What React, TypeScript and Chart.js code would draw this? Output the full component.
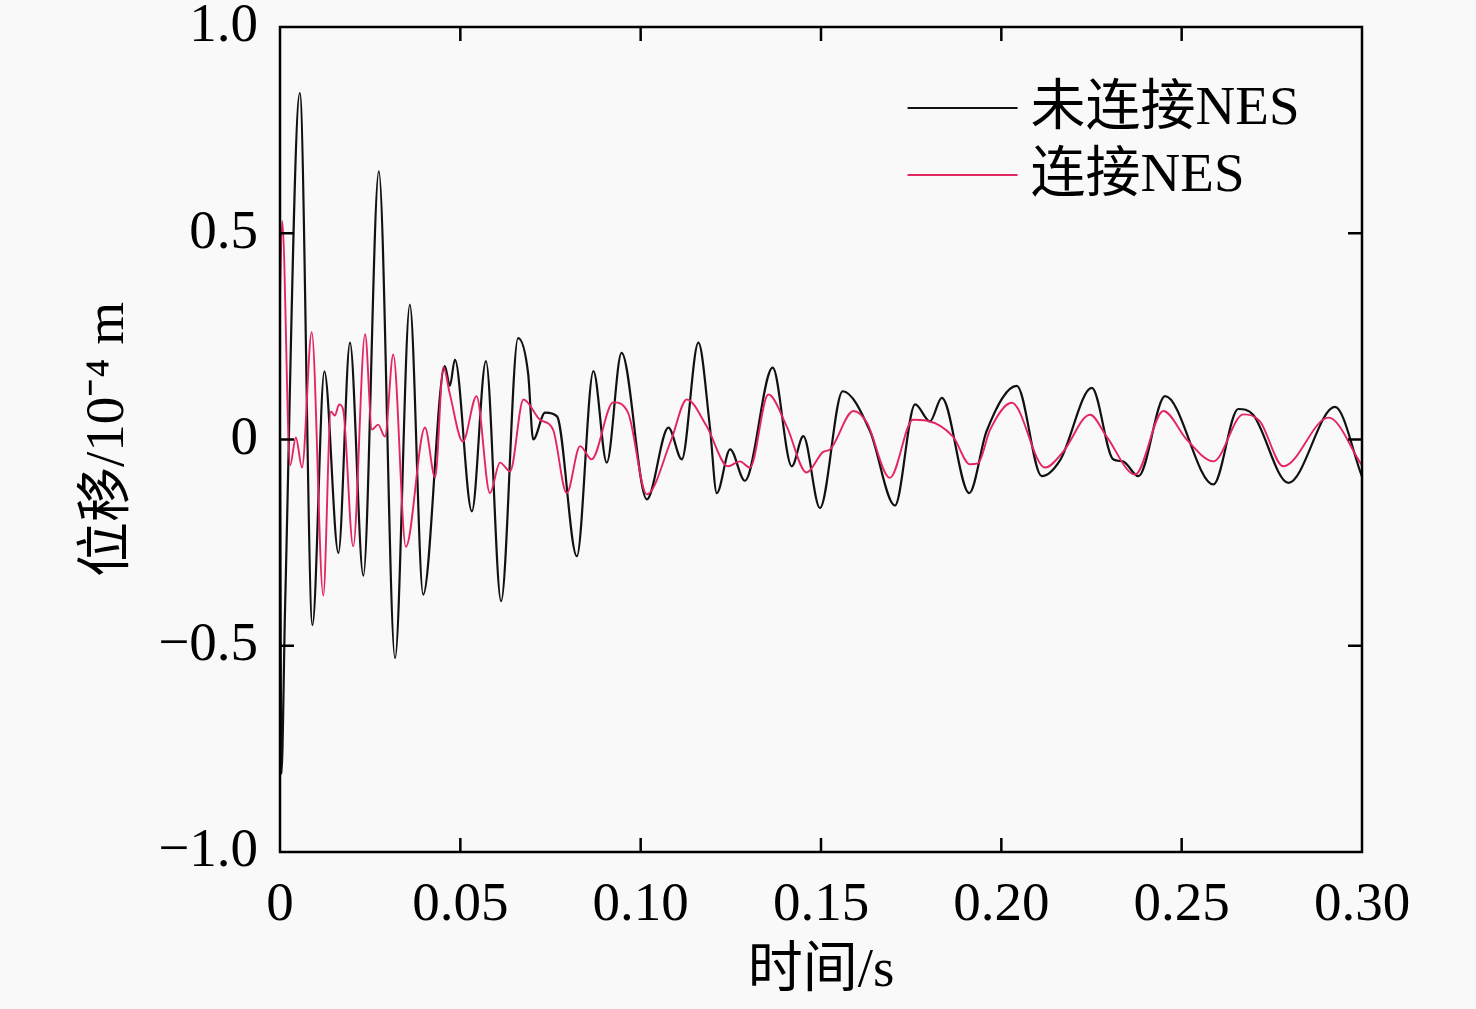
import React, { useEffect, useRef } from "react";
import { Chart, registerables } from "chart.js";

Chart.register(...registerables);

// 未连接NES (black)
const blackTime = [
  0.0, 0.0004, 0.0014, 0.0055, 0.009, 0.0123, 0.0162, 0.0194, 0.0231, 0.0274,
  0.0319, 0.036, 0.0397, 0.0457, 0.0471, 0.0485, 0.0532, 0.0571, 0.0613, 0.066,
  0.0688, 0.0702, 0.0735, 0.0768, 0.0823, 0.0869, 0.0906, 0.0947, 0.1017, 0.1077,
  0.1114, 0.116, 0.1192, 0.1211, 0.1248, 0.1289, 0.1366, 0.1419, 0.1451, 0.1497,
  0.156, 0.1636, 0.1705, 0.1761, 0.1802, 0.1835, 0.1911, 0.1959, 0.2043, 0.2112,
  0.2163, 0.2251, 0.231, 0.2337, 0.238, 0.2454, 0.2588, 0.2657, 0.2698, 0.2796,
  0.2925, 0.3,
];
const blackDisp = [
  0.0, -0.81, -0.41, 0.84, -0.45, 0.165, -0.275, 0.235, -0.33, 0.65,
  -0.53, 0.327, -0.376, 0.178, 0.13, 0.194, -0.174, 0.19, -0.392, 0.246,
  0.16, 0.0, 0.065, 0.056, -0.283, 0.166, -0.056, 0.21, -0.145, 0.029,
  -0.048, 0.235, 0.03, -0.13, -0.024, -0.1, 0.174, -0.065, 0.008, -0.166,
  0.117, 0.02, -0.16, 0.085, 0.044, 0.101, -0.13, 0.02, 0.13, -0.089,
  -0.05, 0.125, -0.048, -0.053, -0.089, 0.105, -0.109, 0.074, 0.06, -0.105,
  0.079, -0.09,
];

// 连接NES (red)
const redTime = [
  0.0, 0.0006, 0.0028, 0.0044, 0.0061, 0.0088, 0.012, 0.0141, 0.0152, 0.0164,
  0.0175, 0.0203, 0.0236, 0.0255, 0.0272, 0.0291, 0.0314, 0.0349, 0.0402, 0.043,
  0.0453, 0.0471, 0.0507, 0.0545, 0.0582, 0.061, 0.0638, 0.0675, 0.0721, 0.0757,
  0.0795, 0.0832, 0.0864, 0.0924, 0.0965, 0.1017, 0.1084, 0.1128, 0.1183, 0.1242,
  0.1275, 0.1303, 0.1354, 0.1405, 0.146, 0.1506, 0.1525, 0.159, 0.1627, 0.1691,
  0.1755, 0.1791, 0.1866, 0.1913, 0.1935, 0.1969, 0.2029, 0.2121, 0.2171, 0.2246,
  0.2292, 0.2371, 0.2449, 0.2514, 0.2588, 0.2671, 0.2717, 0.2782, 0.2907, 0.3,
];
const redDisp = [
  0.35, 0.53, -0.063, 0.005, -0.068, 0.26, -0.378, 0.068, 0.058, 0.085,
  0.073, -0.259, 0.255, 0.024, 0.036, 0.007, 0.206, -0.26, 0.029, -0.092,
  0.175, 0.11, -0.005, 0.105, -0.13, -0.056, -0.077, 0.097, 0.048, 0.024,
  -0.13, -0.016, -0.048, 0.09, 0.065, -0.133, -0.003, 0.097, 0.032, -0.065,
  -0.053, -0.068, 0.109, 0.032, -0.08, -0.03, -0.024, 0.069, 0.041, -0.093,
  0.048, 0.046, 0.007, -0.06, -0.058, 0.024, 0.089, -0.068, -0.03, 0.06,
  0.007, -0.085, 0.069, 0.0, -0.053, 0.061, 0.044, -0.065, 0.053, -0.063,
];

const xTickValues = [0, 0.05, 0.1, 0.15, 0.2, 0.25, 0.3];
const yTickValues = [-1, -0.5, 0, 0.5, 1];
const seriesLabels = ["未连接NES", "连接NES"];
const seriesColors = ["#111111", "#e3265f"];
const xTitle = "时间/s";
const yTitle = "位移/10⁻⁴ m";

const FONT = "'Liberation Serif', 'Times New Roman', 'Noto Sans CJK SC', serif";
const FS = 55;

const framePlugin = {
  id: "frame",
  beforeDraw(chart: any) {
    const { ctx, width, height } = chart;
    ctx.save();
    ctx.fillStyle = "#f9f9f9";
    ctx.fillRect(0, 0, width, height);
    ctx.restore();
  },
  afterDraw(chart: any) {
    const { ctx, chartArea, scales } = chart;
    const { left, right, top, bottom } = chartArea;
    const x = scales.x;
    const y = scales.y;
    ctx.save();
    ctx.strokeStyle = "#000";
    ctx.lineWidth = 2.5;
    ctx.strokeRect(left, top, right - left, bottom - top);
    const tl = 14;
    ctx.beginPath();
    x.ticks.forEach((t: any) => {
      const px = x.getPixelForValue(t.value);
      if (Math.abs(px - left) < 2 || Math.abs(px - right) < 2) return;
      ctx.moveTo(px, bottom);
      ctx.lineTo(px, bottom - tl);
      ctx.moveTo(px, top);
      ctx.lineTo(px, top + tl);
    });
    y.ticks.forEach((t: any) => {
      const py = y.getPixelForValue(t.value);
      if (Math.abs(py - top) < 2 || Math.abs(py - bottom) < 2) return;
      ctx.moveTo(left, py);
      ctx.lineTo(left + tl, py);
      ctx.moveTo(right, py);
      ctx.lineTo(right - tl, py);
    });
    ctx.stroke();

    // legend
    const lx0 = left + (right - left) * 0.58;
    const lx1 = lx0 + 110;
    const rows = [top + 81, top + 148];
    ctx.font = `${FS}px ${FONT}`;
    ctx.textBaseline = "middle";
    ctx.fillStyle = "#000";
    chart.data.datasets.forEach((ds: any, i: number) => {
      const ly = rows[i];
      ctx.beginPath();
      ctx.strokeStyle = ds.borderColor;
      ctx.lineWidth = 2;
      ctx.moveTo(lx0, ly);
      ctx.lineTo(lx1, ly);
      ctx.stroke();
      ctx.fillText(ds.label, lx1 + 13, ly + 2);
    });
    ctx.restore();
  },
};

export default function App() {
  const ref = useRef<HTMLCanvasElement>(null);
  useEffect(() => {
    if (!ref.current) return;
    const chart = new Chart(ref.current, {
      type: "line",
      data: {
        datasets: [
          {
            label: seriesLabels[0],
            data: blackTime.map((t, i) => ({ x: t, y: blackDisp[i] })),
            borderColor: seriesColors[0],
            borderWidth: 2.2,
            pointRadius: 0,
            cubicInterpolationMode: "monotone",
            fill: false,
            order: 1,
          },
          {
            label: seriesLabels[1],
            data: redTime.map((t, i) => ({ x: t, y: redDisp[i] })),
            borderColor: seriesColors[1],
            borderWidth: 1.9,
            pointRadius: 0,
            cubicInterpolationMode: "monotone",
            fill: false,
            order: 0,
          },
        ],
      },
      options: {
        animation: false,
        responsive: false,
        devicePixelRatio: 1,
        layout: { padding: { left: 0, top: 27, right: 114, bottom: 0 } },
        plugins: { legend: { display: false }, tooltip: { enabled: false } },
        scales: {
          x: {
            type: "linear",
            min: 0,
            max: 0.3,
            afterFit: (s: any) => {
              s.height = 157;
              s.paddingLeft = 0;
              s.paddingRight = 0;
            },
            afterBuildTicks: (s: any) => {
              s.ticks = xTickValues.map((v) => ({ value: v }));
            },
            ticks: {
              callback: (v: any) => (v === 0 ? "0" : Number(v).toFixed(2)),
              font: { family: FONT, size: FS, lineHeight: 1 },
              color: "#000",
              padding: 26,
              maxRotation: 0,
              autoSkip: false,
            },
            grid: { display: false, drawTicks: false },
            border: { display: false },
            title: {
              display: true,
              text: xTitle,
              color: "#000",
              font: { family: FONT, size: FS, lineHeight: 1.2 },
              padding: { top: 0, bottom: 4 },
            },
          },
          y: {
            type: "linear",
            min: -1,
            max: 1,
            afterFit: (s: any) => {
              s.width = 280;
              s.paddingTop = 0;
              s.paddingBottom = 0;
            },
            afterBuildTicks: (s: any) => {
              s.ticks = yTickValues.map((v) => ({ value: v }));
            },
            ticks: {
              callback: (v: any) => {
                const n = Number(v);
                if (n === 0) return "0";
                return (n < 0 ? "\u2212" : "") + Math.abs(n).toFixed(1);
              },
              font: { family: FONT, size: FS, lineHeight: 1 },
              color: "#000",
              padding: 22,
              autoSkip: false,
            },
            grid: { display: false, drawTicks: false },
            border: { display: false },
            title: {
              display: true,
              text: yTitle,
              color: "#000",
              font: { family: FONT, size: FS, lineHeight: 1.2 },
              padding: { top: 76, bottom: 0 },
            },
          },
        },
      },
      plugins: [framePlugin],
    } as any);
    return () => chart.destroy();
  }, []);
  return (
    <div style={{ position: "fixed", left: 0, top: 0, width: 1476, height: 1009, background: "#f9f9f9" }}>
      <canvas ref={ref} width={1476} height={1009} style={{ display: "block" }} />
    </div>
  );
}
